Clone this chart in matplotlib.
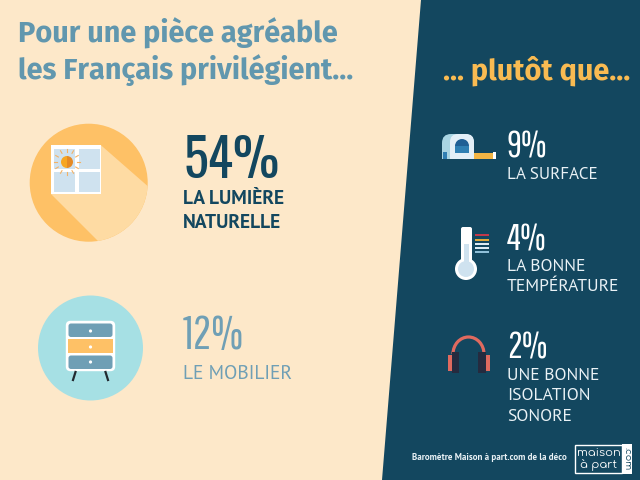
import matplotlib
matplotlib.use("Agg")
import matplotlib.pyplot as plt
import numpy as np
from matplotlib.patches import Circle, FancyBboxPatch, Polygon, Rectangle, Wedge, Arc

CREAM = "#fde8c9"
NAVY = "#13475f"
TEAL = "#6f9fb5"
TITLE_TEAL = "#6197ae"
YELLOW = "#fec166"
SALMON = "#e06a5f"

main_values = ["54%", "12%"]
main_labels = ["LA LUMIÈRE\nNATURELLE", "LE MOBILIER"]
side_values = ["9%", "4%", "2%"]
side_labels = ["LA SURFACE", "LA BONNE\nTEMPÉRATURE", "UNE BONNE\nISOLATION\nSONORE"]

COND = ["Oswald", "Pathway Gothic One", "Roboto", "DejaVu Sans"]
THIN = ["Pathway Gothic One", "Oswald", "Roboto", "DejaVu Sans"]
HEAD = ["Fira Sans", "PT Sans", "Lato", "DejaVu Sans"]
BODY = ["PT Sans", "Lato", "DejaVu Sans"]
LOGO = ["Comfortaa", "Lato", "DejaVu Sans"]

fig = plt.figure(figsize=(6.4, 4.8), dpi=100, facecolor=CREAM)
ax = fig.add_axes([0, 0, 1, 1])
ax.set_xlim(0, 640)
ax.set_ylim(480, 0)
ax.axis("off")


def px(size):
    return size * 0.72


ax.add_patch(Polygon([(421, 0), (640, 0), (640, 480), (382, 480)], color=NAVY, lw=0))

# titles
ax.text(18, 33, "Pour une pièce agréable", color=TITLE_TEAL, fontsize=px(29), fontweight="bold",
        family=HEAD, va="center")
ax.text(18, 70, "les Français privilégient...", color=TITLE_TEAL, fontsize=px(29), fontweight="bold",
        family=HEAD, va="center")
ax.text(537, 71, "... plutôt que...", color="#f9bb52", fontsize=px(29), fontweight="bold",
        family=HEAD, va="center", ha="center")

# window icon
sun_circle = Circle((88.7, 182.7), 59, color=YELLOW, lw=0)
ax.add_patch(sun_circle)
shadow = Polygon([(100.7, 145), (51, 194), (120, 263), (175, 210)], color="#fedba3", lw=0)
ax.add_patch(shadow)
shadow.set_clip_path(sun_circle)
ax.add_patch(Rectangle((50.5, 144.7), 50, 49.5, color="white", lw=0))
for x0, y0 in [(54, 149), (78.5, 149), (54, 172), (78.5, 172)]:
    ax.add_patch(Rectangle((x0, y0), 21, 20, color="#cfe2ef", lw=0))
ax.add_patch(Wedge((67, 162), 6, 90, 270, color="#f6a623", lw=0))
ax.add_patch(Wedge((67, 162), 6, 270, 90, color="#e58a25", lw=0))
for a in np.arange(0, 360, 30):
    ca, sa = np.cos(np.radians(a)), np.sin(np.radians(a))
    ax.plot([67 + 10 * ca, 67 + 13 * ca], [162 + 10 * sa, 162 + 13 * sa], color="#f3b267", lw=0.8)

# furniture icon
ax.add_patch(Circle((90.5, 348), 52.5, color="#a6e0e4", lw=0))
ax.plot([75.5, 73], [372, 380], color="#222a30", lw=1.6)
ax.plot([105.5, 108], [372, 380], color="#222a30", lw=1.6)
ax.add_patch(FancyBboxPatch((68, 323), 45, 46, boxstyle="round,pad=1.5,rounding_size=4",
                            fc="white", ec="white", lw=1))
ax.add_patch(FancyBboxPatch((68.5, 323.5), 44, 13.5, boxstyle="round,pad=0,rounding_size=2.5",
                            fc=TEAL, lw=0))
ax.add_patch(Rectangle((68, 339), 45, 14, color=YELLOW, lw=0))
ax.add_patch(FancyBboxPatch((68.5, 355.5), 44, 13.5, boxstyle="round,pad=0,rounding_size=2.5",
                            fc=TEAL, lw=0))
for y in [331, 347, 362]:
    ax.add_patch(Circle((90.5, y), 1.6, color="white", lw=0))

# main figures
ax.text(184, 161, main_values[0], color=NAVY, fontsize=px(52), fontweight="bold",
        family=COND, va="center")
ax.text(183, 199, "LA LUMIÈRE", color=NAVY, fontsize=px(19.5), fontweight="bold", family=BODY, va="center")
ax.text(183, 223, "NATURELLE", color=NAVY, fontsize=px(19.5), fontweight="bold", family=BODY, va="center")
ax.text(183, 336, main_values[1], color=TEAL, fontsize=px(46), family=THIN, va="center")
ax.text(183, 374, main_labels[1], color=TEAL, fontsize=px(19.5), family=BODY, va="center")

# tape measure icon
ax.add_patch(FancyBboxPatch((442, 134), 32, 25, boxstyle="round,pad=0,rounding_size=9",
                            fc="#a9d5e3", lw=0))
ax.add_patch(Rectangle((442, 150), 32, 9, color="#a9d5e3", lw=0))
ax.add_patch(FancyBboxPatch((450, 134), 24, 25, boxstyle="round,pad=0,rounding_size=8",
                            fc="#e3eff7", lw=0))
ax.add_patch(Rectangle((450, 150), 24, 9, color="#e3eff7", lw=0))
ax.add_patch(Rectangle((443, 152), 4, 7, color="#2f7fb3", lw=0))
ax.add_patch(Wedge((462, 146), 7, 180, 360, color="#1f5f95", lw=0))
ax.add_patch(Rectangle((455, 146), 14, 7, color="#2f7fb3", lw=0))
ax.add_patch(Rectangle((474, 152.5), 19, 6, color="#f2b544", lw=0))
ax.add_patch(Rectangle((493, 152), 2.5, 7, color="white", lw=0))

# thermometer icon
ax.add_patch(FancyBboxPatch((461, 227), 11, 42, boxstyle="round,pad=0,rounding_size=2",
                            fc="white", lw=0))
ax.add_patch(Circle((466, 269), 11, color="white", lw=0))
ax.add_patch(Rectangle((463.5, 244), 5, 26, color="#cfe2ef", lw=0))
ax.add_patch(Circle((466, 269), 8, color="#cfe2ef", lw=0))
for y, c in zip([235, 240, 244, 248, 252],
                ["#c1394a", "#e0a93c", "#dcebf4", "#dcebf4", "#8fbfd8"]):
    ax.add_patch(Rectangle((475, y - 1), 14, 2, color=c, lw=0))

# headphones icon
ax.add_artist(Arc((468.5, 354), 31, 34, theta1=180, theta2=360, color=SALMON, lw=2.3))
for x0, w, h, c in [(448, 3.5, 16, SALMON), (451.5, 7.5, 21, "#252b3f"),
                    (478, 8, 21, "#252b3f"), (486, 3.5, 16, SALMON)]:
    ax.add_patch(Rectangle((x0, 362.5 - h / 2), w, h, color=c, lw=0))

# side figures
for y, v in zip([147, 240, 348], side_values):
    ax.text(507, y, v, color="white", fontsize=px(37), family=THIN, va="center")
ax.text(507, 175, "LA SURFACE", color="#eaf2f6", fontsize=px(17), family=BODY, va="center")
ax.text(507, 267, "LA BONNE", color="#eaf2f6", fontsize=px(17.5), family=BODY, va="center")
ax.text(507, 287, "TEMPÉRATURE", color="#eaf2f6", fontsize=px(17.5), family=BODY, va="center")
for y, line in zip([376, 396, 417], side_labels[2].split("\n")):
    ax.text(507, y, line, color="#eaf2f6", fontsize=px(17.5), family=BODY, va="center")

# footer and logo
ax.text(412, 458, "Baromètre Maison à part.com de la déco", color="#eaf2f6", fontsize=px(9),
        fontweight="bold", family=BODY, va="center")
ax.add_patch(Rectangle((574.5, 444.5), 47.5, 28.5, fc=NAVY, ec="white", lw=1))
ax.add_patch(Rectangle((622, 444), 10, 29.5, color="white", lw=0))
ax.text(598.5, 453.5, "maison", color="white", fontsize=px(11.5), family=LOGO, ha="center", va="center")
ax.text(598.5, 465, "à part", color="white", fontsize=px(11.5), family=LOGO, ha="center", va="center")
ax.text(627.5, 459, ".com", color=NAVY, fontsize=px(9.5), family=LOGO, rotation=270, ha="center", va="center")

fig.savefig("out.png", dpi=100, facecolor=CREAM)
